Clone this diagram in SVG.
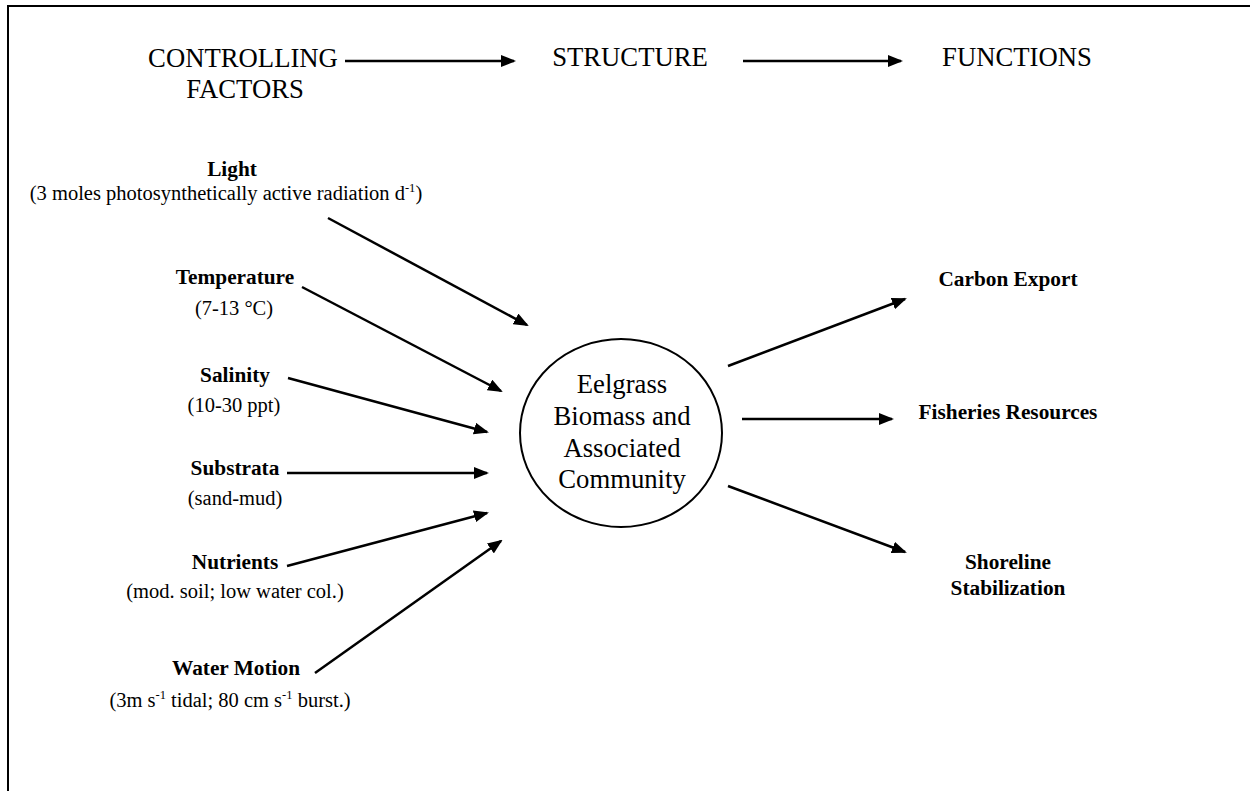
<svg xmlns="http://www.w3.org/2000/svg" width="1250" height="791" viewBox="0 0 1250 791" font-family="'Liberation Serif', Tinos, 'Times New Roman', 'DejaVu Serif', serif">
  <style>
    text { font-family: 'Liberation Serif', Tinos, 'Times New Roman', 'DejaVu Serif', serif; fill: #000; text-anchor: middle; }
    .head { font-size: 26.7px; }
    .big { font-size: 26.7px; }
    .lbl { font-size: 21.3px; font-weight: bold; }
    .sub { font-size: 20.5px; }
    .sup { font-size: 12.5px; }
    .conn line { stroke: #000; stroke-width: 2.5; fill: none; }
    .frame { stroke: #000; stroke-width: 2; fill: none; }
  </style>
  <defs>
    <marker id="arrow" markerUnits="userSpaceOnUse" viewBox="0 0 15 12" markerWidth="15" markerHeight="12" refX="13" refY="6" orient="auto">
      <path d="M0,0 L15,6 L0,12 z" fill="#000"/>
    </marker>
  </defs>

  <rect width="1250" height="791" fill="#fff"/>

  <!-- open frame: top and left edges only -->
  <path class="frame" d="M8,791 L8,6 L1250,6"/>

  <!-- column headings -->
  <g id="heading-controlling">
    <text class="head" x="243" y="67">CONTROLLING</text>
    <text class="head" x="245" y="98">FACTORS</text>
  </g>
  <g id="heading-structure">
    <text class="head" x="630" y="66">STRUCTURE</text>
  </g>
  <g id="heading-functions">
    <text class="head" x="1017" y="66">FUNCTIONS</text>
  </g>

  <!-- controlling factors -->
  <g id="light">
    <text class="lbl" x="232" y="176">Light</text>
    <text class="sub" x="226" y="200">(3 moles photosynthetically active radiation d<tspan class="sup" dy="-8">-1</tspan><tspan dy="8">)</tspan></text>
  </g>
  <g id="temperature">
    <text class="lbl" x="235" y="284">Temperature</text>
    <text class="sub" x="234" y="315">(7-13 °C)</text>
  </g>
  <g id="salinity">
    <text class="lbl" x="235" y="382">Salinity</text>
    <text class="sub" x="234" y="412">(10-30 ppt)</text>
  </g>
  <g id="substrata">
    <text class="lbl" x="235" y="475">Substrata</text>
    <text class="sub" x="235" y="505">(sand-mud)</text>
  </g>
  <g id="nutrients">
    <text class="lbl" x="235" y="569">Nutrients</text>
    <text class="sub" x="235" y="598">(mod. soil; low water col.)</text>
  </g>
  <g id="water-motion">
    <text class="lbl" x="236" y="675">Water Motion</text>
    <text class="sub" x="230" y="707">(3m s<tspan class="sup" dy="-8">-1</tspan><tspan dy="8"> tidal; 80 cm s</tspan><tspan class="sup" dy="-8">-1</tspan><tspan dy="8"> burst.)</tspan></text>
  </g>

  <!-- structure -->
  <g id="eelgrass">
    <ellipse cx="621" cy="433" rx="101" ry="94" fill="#fff" stroke="#000" stroke-width="2"/>
    <text class="big" x="622" y="393">Eelgrass</text>
    <text class="big" x="622" y="425">Biomass and</text>
    <text class="big" x="622" y="457">Associated</text>
    <text class="big" x="622" y="488">Community</text>
  </g>

  <!-- functions -->
  <g id="carbon-export">
    <text class="lbl" x="1008" y="286">Carbon Export</text>
  </g>
  <g id="fisheries-resources">
    <text class="lbl" x="1008" y="419">Fisheries Resources</text>
  </g>
  <g id="shoreline-stabilization">
    <text class="lbl" x="1008" y="569">Shoreline</text>
    <text class="lbl" x="1008" y="595">Stabilization</text>
  </g>

  <!-- connectors -->
  <g id="connectors" class="conn">
    <line x1="345" y1="61" x2="514" y2="61" marker-end="url(#arrow)"/>
    <line x1="743" y1="61" x2="901" y2="61" marker-end="url(#arrow)"/>

    <line x1="328" y1="218" x2="527" y2="325" marker-end="url(#arrow)"/>
    <line x1="302" y1="287" x2="501" y2="391" marker-end="url(#arrow)"/>
    <line x1="288" y1="378" x2="487" y2="432" marker-end="url(#arrow)"/>
    <line x1="287" y1="473" x2="487" y2="473" marker-end="url(#arrow)"/>
    <line x1="287" y1="566" x2="487" y2="513" marker-end="url(#arrow)"/>
    <line x1="315" y1="673" x2="501" y2="541" marker-end="url(#arrow)"/>

    <line x1="728" y1="366" x2="905" y2="299" marker-end="url(#arrow)"/>
    <line x1="742" y1="419" x2="892" y2="419" marker-end="url(#arrow)"/>
    <line x1="728" y1="486" x2="905" y2="552" marker-end="url(#arrow)"/>
  </g>
</svg>
